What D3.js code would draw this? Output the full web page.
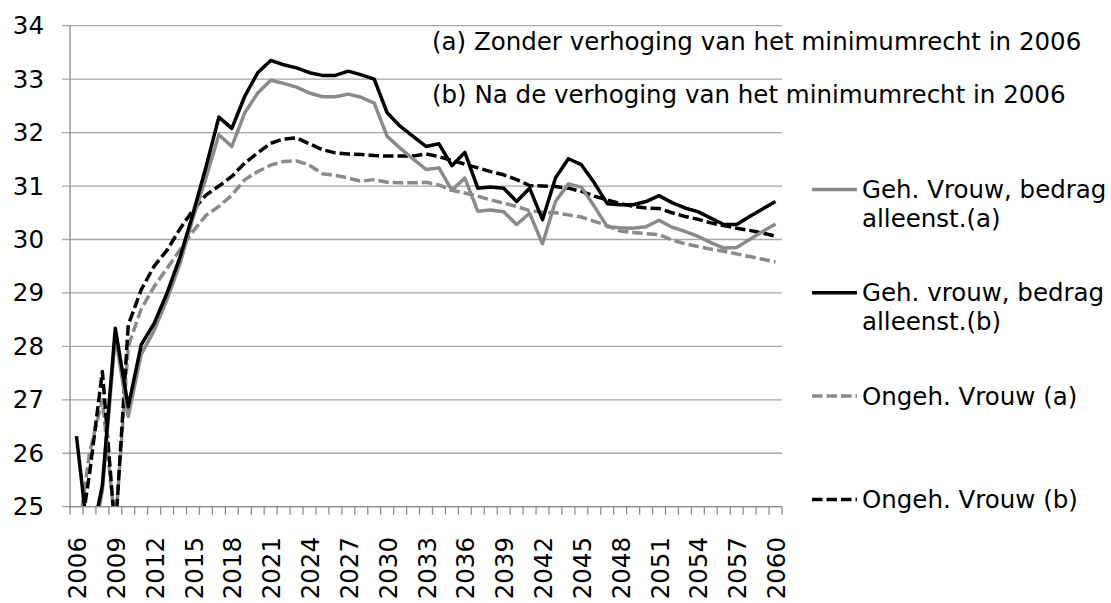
<!DOCTYPE html>
<html>
<head>
<meta charset="utf-8">
<script src="https://cdn.jsdelivr.net/npm/d3@7"></script>
<style>
    body { margin: 0; background: #ffffff; }
    svg { display: block; font-family: "DejaVu Sans", Verdana, sans-serif; }
</style>
</head>
<body>
<svg id="chart-svg"></svg>
<script>
//years on the category axis
const years = d3.range(2006, 2061);
const yTicks = [25, 26, 27, 28, 29, 30, 31, 32, 33, 34];

//Geh. Vrouw, bedrag alleenst.(a)
const gehVrouwA = [24.5, 24.0, 25.3, 28.2, 26.69, 27.85, 28.3, 28.88, 29.55, 30.4, 31.15,
    31.96, 31.74, 32.37, 32.74, 32.98, 32.92, 32.85, 32.74, 32.67, 32.67, 32.72, 32.66, 32.55,
    31.93, 31.71, 31.51, 31.31, 31.34, 30.92, 31.15, 30.53, 30.55, 30.52, 30.28, 30.49, 29.92,
    30.71, 31.04, 30.98, 30.62, 30.24, 30.22, 30.21, 30.24, 30.36, 30.23, 30.15, 30.06, 29.94,
    29.84, 29.85, 30.0, 30.15, 30.29];
//Geh. vrouw, bedrag alleenst.(b)
const gehVrouwB = [26.32, 24.2, 25.4, 28.34, 26.87, 28.03, 28.43, 29.0, 29.67, 30.48, 31.35,
    32.29, 32.08, 32.68, 33.12, 33.35, 33.27, 33.21, 33.12, 33.07, 33.07, 33.15, 33.08, 33.0,
    32.37, 32.12, 31.93, 31.74, 31.79, 31.38, 31.63, 30.96, 30.98, 30.96, 30.71, 30.96, 30.37,
    31.15, 31.51, 31.4, 31.06, 30.67, 30.65, 30.65, 30.71, 30.82, 30.69, 30.59, 30.52, 30.4,
    30.28, 30.28, 30.43, 30.57, 30.71];
//Ongeh. Vrouw (a)
const ongehVrouwA = [24.2, 26.0, 27.0, 24.6, 28.0, 28.7, 29.12, 29.46, 29.81, 30.15, 30.45,
    30.62, 30.83, 31.12, 31.27, 31.39, 31.46, 31.47, 31.39, 31.23, 31.2, 31.15, 31.09, 31.12,
    31.07, 31.06, 31.06, 31.07, 31.02, 30.92, 30.87, 30.81, 30.74, 30.68, 30.62, 30.54, 30.51,
    30.5, 30.46, 30.42, 30.34, 30.26, 30.16, 30.13, 30.11, 30.09, 29.99, 29.92, 29.87, 29.82,
    29.78, 29.73, 29.68, 29.63, 29.58];
//Ongeh. Vrouw (b)
const ongehVrouwB = [24.0, 25.6, 27.53, 24.5, 28.4, 29.06, 29.5, 29.8, 30.2, 30.55, 30.83,
    31.0, 31.18, 31.43, 31.62, 31.8, 31.88, 31.9, 31.79, 31.68, 31.62, 31.6, 31.59, 31.57,
    31.56, 31.56, 31.56, 31.6, 31.55, 31.48, 31.41, 31.34, 31.27, 31.21, 31.12, 31.01, 31.0,
    30.99, 30.96, 30.9, 30.81, 30.74, 30.67, 30.62, 30.59, 30.58, 30.5, 30.43, 30.38, 30.31,
    30.26, 30.21, 30.17, 30.12, 30.06];

const seriesNames = ["Geh. Vrouw, bedrag alleenst.(a)", "Geh. vrouw, bedrag alleenst.(b)",
    "Ongeh. Vrouw (a)", "Ongeh. Vrouw (b)"];
const legendLines = [["Geh. Vrouw, bedrag", "alleenst.(a)"], ["Geh. vrouw, bedrag", "alleenst.(b)"],
    ["Ongeh. Vrouw (a)"], ["Ongeh. Vrouw (b)"]];
const notes = ["(a) Zonder verhoging van het minimumrecht in 2006",
    "(b) Na de verhoging van het minimumrecht in 2006"];

function init() {
    const s_width = 1111;
    const s_height = 603;
    const left = 70, right = 782, top = 25.7, bottom = 506.7;
    const grey = "#8a8a8a";
    const gridGrey = "#a6a6a6";

    const svg = d3.select("#chart-svg")
        .attr("width", s_width)
        .attr("height", s_height);

    const series = [
        {name: seriesNames[0], values: gehVrouwA, color: grey, dash: null},
        {name: seriesNames[1], values: gehVrouwB, color: "#000000", dash: null},
        {name: seriesNames[2], values: ongehVrouwA, color: grey, dash: "10.5,4"},
        {name: seriesNames[3], values: ongehVrouwB, color: "#000000", dash: "10.5,4"}
    ];

    //band scale for category boundaries, points sit in the middle
    const scaleX = d3.scaleBand()
        .domain(years)
        .range([left, right]);
    const scaleY = d3.scaleLinear()
        .domain([25, 34])
        .range([bottom, top]);

    //gridlines, incl. the short tick part left of the axis
    svg.append("g")
        .selectAll("line").data(yTicks).enter()
        .append("line")
        .attr("x1", left - 8)
        .attr("x2", right)
        .attr("y1", d => scaleY(d))
        .attr("y2", d => scaleY(d))
        .attr("stroke", gridGrey)
        .attr("stroke-width", 1.3);

    //y axis line
    svg.append("line")
        .attr("x1", left).attr("x2", left)
        .attr("y1", top).attr("y2", bottom + 1)
        .attr("stroke", "#8c8c8c")
        .attr("stroke-width", 1.3);

    //y tick labels
    svg.append("g")
        .selectAll("text").data(yTicks).enter()
        .append("text")
        .attr("x", 44)
        .attr("y", d => scaleY(d))
        .attr("dy", "0.35em")
        .attr("text-anchor", "end")
        .attr("font-size", "24.5px")
        .attr("fill", "#000")
        .text(d => d);

    //x tick marks on category boundaries
    svg.append("g")
        .selectAll("line").data(years.concat([2061])).enter()
        .append("line")
        .attr("x1", (d, i) => left + i * scaleX.step())
        .attr("x2", (d, i) => left + i * scaleX.step())
        .attr("y1", bottom)
        .attr("y2", bottom + 8)
        .attr("stroke", "#8c8c8c")
        .attr("stroke-width", 1.3);

    //x labels every 3 years, rotated
    svg.append("g")
        .selectAll("text").data(years.filter((d, i) => i % 3 === 0)).enter()
        .append("text")
        .attr("transform", d => `translate(${scaleX(d) + scaleX.bandwidth() / 2 + 1}, 537) rotate(-90)`)
        .attr("dy", "0.35em")
        .attr("text-anchor", "end")
        .attr("font-size", "24.5px")
        .attr("fill", "#000")
        .text(d => d);

    //clip the lines to the plot area
    svg.append("clipPath")
        .attr("id", "plot-clip")
        .append("rect")
        .attr("x", left)
        .attr("y", top - 5)
        .attr("width", right - left)
        .attr("height", bottom - top + 5);

    const line = d3.line()
        .x((d, i) => scaleX(years[i]) + scaleX.bandwidth() / 2)
        .y(d => scaleY(d));

    //draw order: dashed first, then solid on top
    const drawOrder = [series[2], series[3], series[0], series[1]];
    svg.append("g")
        .attr("clip-path", "url(#plot-clip)")
        .selectAll("path").data(drawOrder).enter()
        .append("path")
        .attr("d", d => line(d.values))
        .attr("fill", "none")
        .attr("stroke", d => d.color)
        .attr("stroke-width", 3.5)
        .attr("stroke-linejoin", "round")
        .attr("stroke-dasharray", d => d.dash);

    //x axis line on top of the clipped lines
    svg.append("line")
        .attr("x1", left).attr("x2", right)
        .attr("y1", bottom).attr("y2", bottom)
        .attr("stroke", "#8c8c8c")
        .attr("stroke-width", 1.3);

    //notes in the upper right
    svg.append("g")
        .selectAll("text").data(notes).enter()
        .append("text")
        .attr("x", 432)
        .attr("y", (d, i) => 50 + i * 53)
        .attr("font-size", "24.5px")
        .attr("fill", "#000")
        .text(d => d);

    //legend
    const legend = svg.append("g")
        .selectAll("g").data(series).enter()
        .append("g")
        .attr("transform", (d, i) => `translate(812, ${189.5 + i * 103.3})`);

    legend.append("line")
        .attr("x1", 0).attr("x2", 45)
        .attr("y1", 0).attr("y2", 0)
        .attr("stroke", d => d.color)
        .attr("stroke-width", 3.5)
        .attr("stroke-dasharray", d => d.dash);

    legend.append("text")
        .attr("x", 50)
        .attr("y", 8.5)
        .attr("font-size", "24.5px")
        .attr("fill", "#000")
        .selectAll("tspan").data((d, i) => legendLines[i]).enter()
        .append("tspan")
        .attr("x", 50)
        .attr("dy", (d, i) => i === 0 ? 0 : 28.5)
        .text(d => d);
}

window.onload = init;
</script>
</body>
</html>
